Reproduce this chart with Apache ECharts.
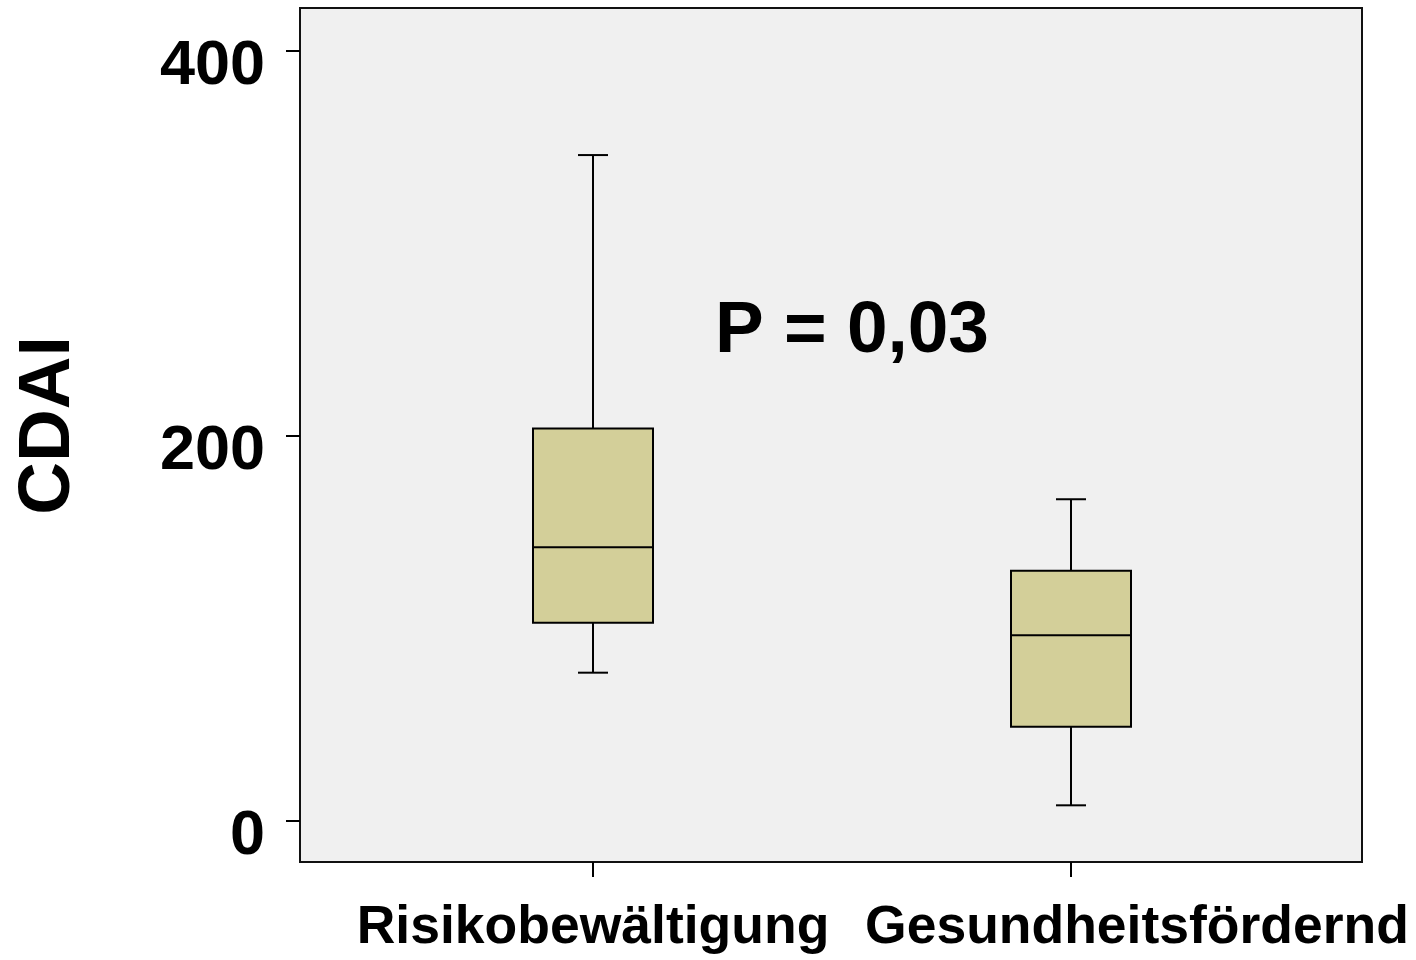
<!DOCTYPE html>
<html>
<head>
<meta charset="utf-8">
<script src="https://cdn.jsdelivr.net/npm/echarts@6/dist/echarts.min.js"></script>
<style>
html,body{margin:0;padding:0;background:#fff;}
#c{width:1416px;height:960px;}
</style>
</head>
<body>
<div id="c"></div>
<script>
const categories = ['Risikobewältigung', 'Gesundheitsfördernd'];
const whiskerLow = [76.9, 8.0];
const q1 = [102.9, 48.8];
const median = [142.0, 96.3];
const q3 = [203.8, 129.9];
const whiskerHigh = [345.8, 167.0];
const yTicks = [0, 200, 400];
const yName = 'CDAI';
const annotation = 'P = 0,03';

const FONT = "'Liberation Sans', Arial, sans-serif";
const Y_MIN = -21.45, Y_MAX = 422.2;

const boxData = categories.map((c, i) => [i, whiskerLow[i], q1[i], median[i], q3[i], whiskerHigh[i]]);

const chart = echarts.init(document.getElementById('c'));
chart.setOption({
  animation: false,
  backgroundColor: '#ffffff',
  grid: [
    {left: 300, right: 54, top: 8, bottom: 98, show: true, backgroundColor: '#f0f0f0', borderColor: '#111', borderWidth: 2, containLabel: false},
    {left: 354, right: 106, top: 8, bottom: 98, show: false, containLabel: false}
  ],
  xAxis: [
    {gridIndex: 0, type: 'value', show: false, min: 0, max: 1},
    {gridIndex: 1, type: 'category', data: categories, position: 'bottom',
      axisLine: {show: false, onZero: false},
      axisTick: {show: true, alignWithLabel: true, length: 15, lineStyle: {color: '#000', width: 2}},
      splitLine: {show: false},
      axisLabel: {
        show: true, interval: 0, margin: 39,
        formatter: function (v, i) { return i === 1 ? '{g|' + v + '}' : '{r|' + v + '}'; },
        rich: {
          r: {fontFamily: FONT, fontWeight: 'bold', fontSize: 53.5, color: '#000'},
          g: {fontFamily: FONT, fontWeight: 'bold', fontSize: 53.5, color: '#000', padding: [0, 0, 0, 132]}
        }
      }
    }
  ],
  yAxis: [
    {gridIndex: 0, type: 'value', min: Y_MIN, max: Y_MAX,
      name: '{n|' + yName + '}', nameLocation: 'middle', nameGap: 215, nameRotate: 90,
      nameTextStyle: {fontFamily: FONT, fontWeight: 'bold', fontSize: 73, color: '#000',
        rich: {n: {fontFamily: FONT, fontWeight: 'bold', fontSize: 73, color: '#000', padding: [0, 0, 0, 19]}}},
      axisLine: {show: false},
      splitLine: {show: false},
      axisTick: {show: true, length: 14, customValues: yTicks, lineStyle: {color: '#000', width: 2}},
      axisLabel: {show: true, customValues: yTicks, margin: 35,
        formatter: function (v) { return '{t|' + v + '}'; },
        rich: {t: {fontFamily: FONT, fontWeight: 'bold', fontSize: 63, color: '#000', padding: [31, 0, 0, 0]}}
      }
    },
    {gridIndex: 1, type: 'value', min: Y_MIN, max: Y_MAX, show: false}
  ],
  series: [{
    type: 'custom',
    xAxisIndex: 1,
    yAxisIndex: 1,
    data: boxData,
    renderItem: function (params, api) {
      const x = api.value(0);
      const band = api.size([1, 0])[0];
      const halfBox = band * 120 / 478 / 2;
      const halfCap = band * 30 / 478 / 2;
      const pLow = api.coord([x, api.value(1)]);
      const pQ1 = api.coord([x, api.value(2)]);
      const pMed = api.coord([x, api.value(3)]);
      const pQ3 = api.coord([x, api.value(4)]);
      const pHigh = api.coord([x, api.value(5)]);
      const cx = pMed[0];
      const ls = {stroke: '#000', lineWidth: 2};
      return {
        type: 'group',
        children: [
          {type: 'line', shape: {x1: cx, y1: pQ3[1], x2: cx, y2: pHigh[1]}, style: ls},
          {type: 'line', shape: {x1: cx, y1: pQ1[1], x2: cx, y2: pLow[1]}, style: ls},
          {type: 'line', shape: {x1: cx - halfCap, y1: pHigh[1], x2: cx + halfCap, y2: pHigh[1]}, style: ls},
          {type: 'line', shape: {x1: cx - halfCap, y1: pLow[1], x2: cx + halfCap, y2: pLow[1]}, style: ls},
          {type: 'rect', shape: {x: cx - halfBox, y: pQ3[1], width: halfBox * 2, height: pQ1[1] - pQ3[1]}, style: {fill: '#d3cf99', stroke: '#000', lineWidth: 2}},
          {type: 'line', shape: {x1: cx - halfBox, y1: pMed[1], x2: cx + halfBox, y2: pMed[1]}, style: ls}
        ]
      };
    }
  }],
  graphic: [{
    type: 'text', left: 715, top: 295,
    style: {text: annotation, fontFamily: FONT, fontWeight: 'bold', fontSize: 73, fill: '#000'}
  }]
});
</script>
</body>
</html>
